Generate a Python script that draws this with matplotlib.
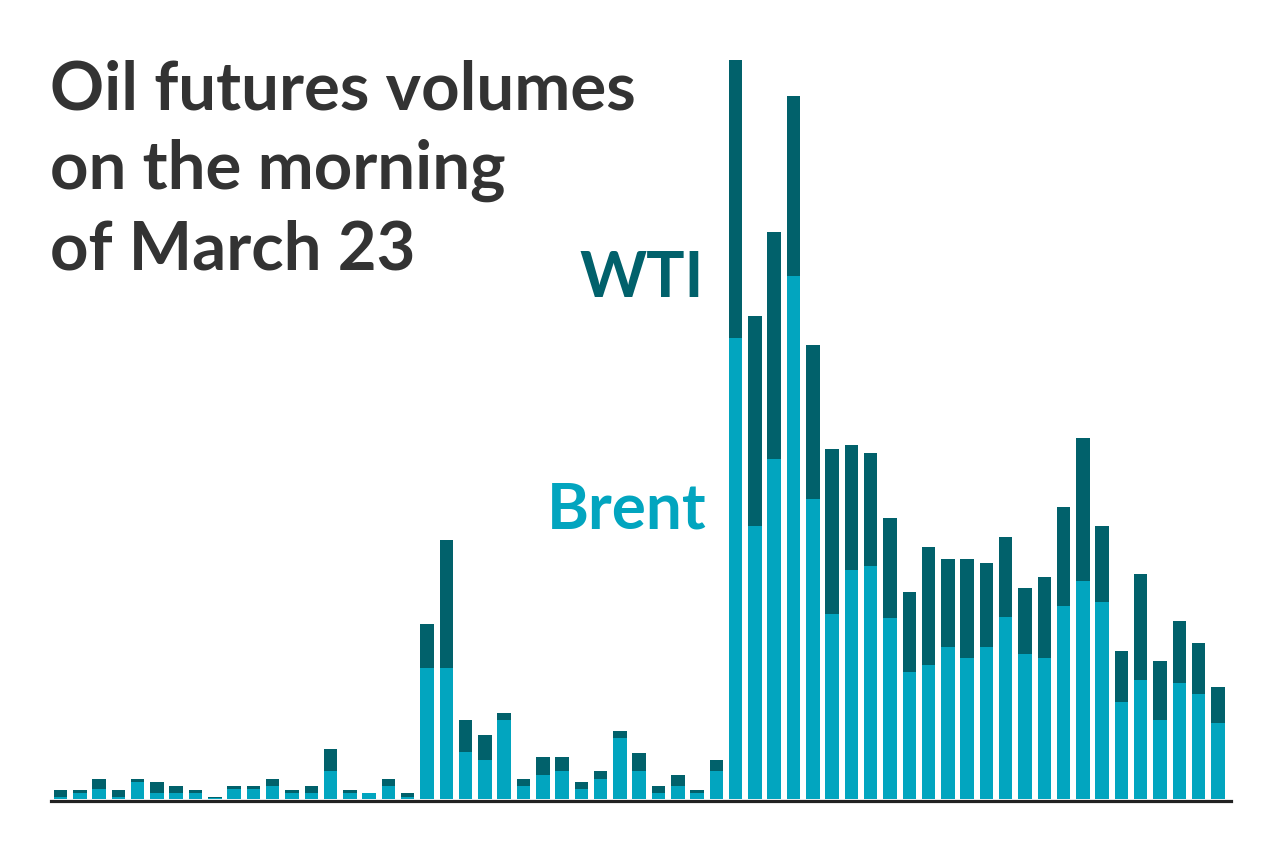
import matplotlib
matplotlib.use("Agg")
import matplotlib.pyplot as plt
import numpy as np

# Volumes (arbitrary units), one bar per interval
brent = [2, 5.6, 9.3, 2, 16.7, 5.6, 5.6, 5.6, 0.5, 9.3,
         9.3, 12.7, 5.6, 5.6, 27.7, 5.6, 5.3, 13, 2, 130.3,
         130.3, 46.3, 38.3, 78.7, 12.7, 24, 27.7, 9.3, 20, 60.3,
         27.3, 5.3, 12.7, 5.3, 27.7, 460.3, 273, 339, 522.7, 299,
         185, 229, 233, 181, 126.3, 133.3, 152, 141, 152, 181.3,
         144.7, 141, 192.3, 218, 196.3, 97, 119, 78.7, 115.3, 104.3,
         75.3]
wti = [7, 3.4, 10.7, 7, 3.3, 11.1, 7.1, 3.4, 1.5, 3.4,
       3.4, 7.3, 3.4, 7.1, 21.6, 3.4, 0, 7, 3.3, 43.7,
       128, 32.4, 25.7, 7.3, 7.3, 18, 14.3, 7, 7.3, 7.4,
       18.4, 7.4, 11, 3.7, 10.6, 278.4, 209, 227.3, 179.3, 154,
       165, 124.7, 113, 99.3, 80.4, 117.7, 87.7, 98.7, 84, 80.4,
       65.6, 80.7, 98.7, 143, 76.4, 51, 106, 58.6, 62.4, 51.4,
       36.4]

title_lines = ["Oil futures volumes", "on the morning", "of March 23"]
label_wti = "WTI"
label_brent = "Brent"

C_WTI = "#01616b"
C_BRENT = "#02a5bf"
C_TEXT = "#333333"

W, H = 1280, 855
fig = plt.figure(figsize=(W / 100, H / 100), dpi=100)

base_px = 800.5
top_px = 40
left_px, right_px = 51, 1231
ax = fig.add_axes([left_px / W, (H - base_px) / H,
                   (right_px - left_px) / W, (base_px - top_px) / H])

x = np.arange(len(brent))
pitch = 19.29
c0 = 60.5
ax.bar(x, brent, width=0.70, color=C_BRENT, linewidth=0)
ax.bar(x, wti, bottom=brent, width=0.70, color=C_WTI, linewidth=0)

ax.set_xlim((left_px - c0) / pitch, (right_px - c0) / pitch)
off = 2.0
ax.set_ylim(-off, base_px - top_px - off)
for s in ["top", "right", "left"]:
    ax.spines[s].set_visible(False)
ax.spines["bottom"].set_linewidth(2.3)
ax.spines["bottom"].set_color("#222222")
ax.set_xticks([])
ax.set_yticks([])

font = "Lato"
for i, line in enumerate(title_lines):
    fig.text(50 / W, 1 - (109 + 80 * i) / H, line, fontsize=48.3,
             fontweight="bold", family=font, color=C_TEXT, va="baseline", ha="left")

fig.text(704 / W, 1 - 297 / H, label_wti, fontsize=46, fontweight="bold",
         family=font, color=C_WTI, va="baseline", ha="right")
fig.text(706 / W, 1 - 528 / H, label_brent, fontsize=46, fontweight="bold",
         family=font, color=C_BRENT, va="baseline", ha="right")

fig.savefig("out.png", dpi=100, facecolor="white")
